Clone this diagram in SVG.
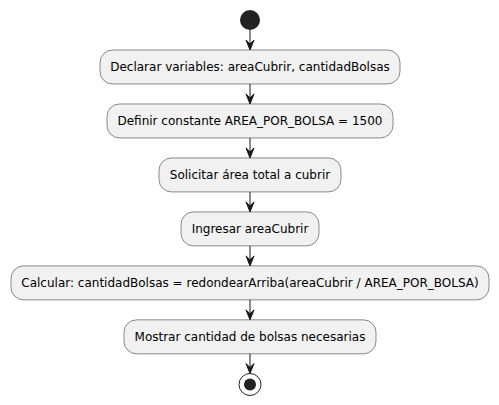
<svg xmlns="http://www.w3.org/2000/svg" width="499" height="405" viewBox="0 0 499 405">
<style>
.n rect{fill:#F1F1F1;stroke:#181818;stroke-width:0.5}
.n text{font-family:"DejaVu Sans",sans-serif;font-size:12px;fill:#000;text-anchor:middle}
.c line{stroke:#181818;stroke-width:1}
.c polygon{fill:#181818;stroke:#181818;stroke-width:1}
</style>
<rect width="499" height="405" fill="#FFFFFF"/>
<g id="start"><circle cx="250" cy="20" r="10" fill="#222222"/></g>
<g id="n1" class="n"><rect x="100" y="50" width="300" height="33.97" rx="12.5"/><text x="250" y="71.2">Declarar variables: areaCubrir, cantidadBolsas</text></g>
<g id="n2" class="n"><rect x="107" y="103.97" width="286" height="33.97" rx="12.5"/><text x="250" y="125.2">Definir constante AREA_POR_BOLSA = 1500</text></g>
<g id="n3" class="n"><rect x="159" y="157.94" width="182" height="33.97" rx="12.5"/><text x="250" y="179.1">Solicitar área total a cubrir</text></g>
<g id="n4" class="n"><rect x="181" y="211.91" width="138" height="33.97" rx="12.5"/><text x="250" y="233.1">Ingresar areaCubrir</text></g>
<g id="n5" class="n"><rect x="11" y="265.88" width="478" height="33.97" rx="12.5"/><text x="250" y="287.1">Calcular: cantidadBolsas = redondearArriba(areaCubrir / AREA_POR_BOLSA)</text></g>
<g id="n6" class="n"><rect x="124" y="319.85" width="252" height="33.97" rx="12.5"/><text x="250" y="341.1">Mostrar cantidad de bolsas necesarias</text></g>
<g id="end"><circle cx="250" cy="384.5" r="11" fill="none" stroke="#222222" stroke-width="1"/><circle cx="250" cy="384.5" r="6" fill="#222222"/></g>
<g id="connectors" class="c">
<line x1="250" y1="30" x2="250" y2="44"/><polygon points="246,40 250,50 254,40 250,44"/>
<line x1="250" y1="83.97" x2="250" y2="97.97"/><polygon points="246,93.97 250,103.97 254,93.97 250,97.97"/>
<line x1="250" y1="137.94" x2="250" y2="151.94"/><polygon points="246,147.94 250,157.94 254,147.94 250,151.94"/>
<line x1="250" y1="191.91" x2="250" y2="205.91"/><polygon points="246,201.91 250,211.91 254,201.91 250,205.91"/>
<line x1="250" y1="245.88" x2="250" y2="259.88"/><polygon points="246,255.88 250,265.88 254,255.88 250,259.88"/>
<line x1="250" y1="299.85" x2="250" y2="313.85"/><polygon points="246,309.85 250,319.85 254,309.85 250,313.85"/>
<line x1="250" y1="353.82" x2="250" y2="367.5"/><polygon points="246,363.5 250,373.5 254,363.5 250,367.5"/>
</g>
</svg>
